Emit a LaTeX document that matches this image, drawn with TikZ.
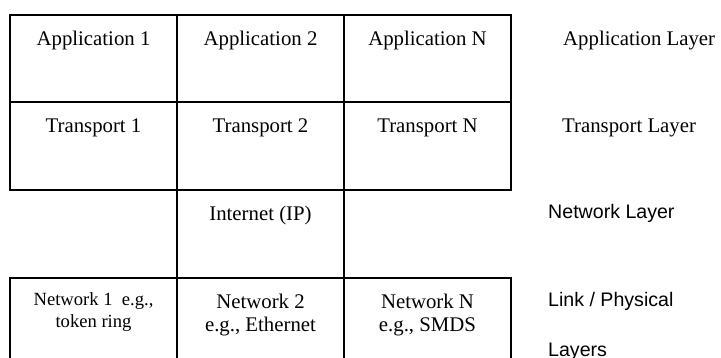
\documentclass[tikz,border=0pt]{standalone}
\usepackage{fontspec}
\setmainfont{Liberation Serif}
\newfontfamily\arialfont{Liberation Sans}
\begin{document}
\begin{tikzpicture}[x=1pt,y=-1pt,
  grid/.style={line width=2pt, line cap=rect},
  cell/.style={inner sep=0pt, anchor=base, font=\fontsize{20.8}{24}\selectfont},
  smallcell/.style={inner sep=0pt, anchor=base, font=\fontsize{18.6}{22}\selectfont},
  serifname/.style={inner sep=0pt, anchor=base west, font=\fontsize{20.8}{24}\selectfont},
  sansname/.style={inner sep=0pt, anchor=base west, font=\arialfont\fontsize{19.6}{24}\selectfont}]
\useasboundingbox (0,0) rectangle (721,358);

% protocol stack grid
\draw[grid] (10,15) rectangle (511,190);
\draw[grid] (10,102) -- (511,102);
\draw[grid] (177,15) -- (177,190);
\draw[grid] (344,15) -- (344,190);
\draw[grid] (177,190) -- (177,278);
\draw[grid] (344,190) -- (344,278);
\draw[grid] (10,372) -- (10,278) -- (511,278) -- (511,372);
\draw[grid] (177,278) -- (177,372);
\draw[grid] (344,278) -- (344,372);

% application row
\node[cell] (app1) at (93.5,46) {Application 1};
\node[cell] (app2) at (260.5,46) {Application 2};
\node[cell] (appn) at (427.5,46) {Application N};

% transport row
\node[cell] (tr1) at (93.5,133) {Transport 1};
\node[cell] (tr2) at (260.5,133) {Transport 2};
\node[cell] (trn) at (427.5,133) {Transport N};

% internet
\node[cell] (ip) at (260.5,221) {Internet (IP)};

% link row
\node[smallcell] (net1a) at (93.5,306) {Network 1\ \ e.g.,};
\node[smallcell] (net1b) at (93.5,327) {token ring};
\node[cell] (net2a) at (260.5,309) {Network 2};
\node[cell] (net2b) at (260.5,332) {e.g., Ethernet};
\node[cell] (netna) at (427.5,309) {Network N};
\node[cell] (netnb) at (427.5,332) {e.g., SMDS};

% layer names
\node[serifname] (lapp) at (563,46) {Application Layer};
\node[serifname] (ltr) at (562,133) {Transport Layer};
\node[sansname] (lnet) at (548,219) {Network Layer};
\node[sansname] (llink) at (548,307) {Link / Physical};
\node[sansname] (llay) at (548,357) {Layers};
\end{tikzpicture}
\end{document}
